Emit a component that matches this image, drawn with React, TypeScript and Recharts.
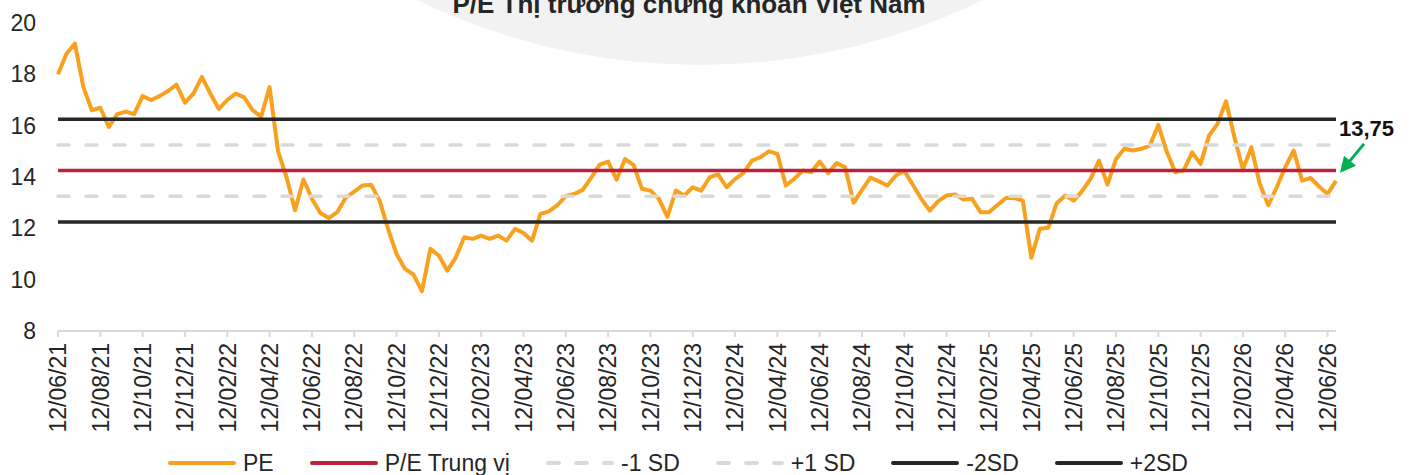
import React from 'react';
import { LineChart, Line, XAxis, YAxis, ReferenceDot, Legend } from 'recharts';

// tick labels, one every 5 points (2 months)
const X_LABELS = [
  '12/06/21', '12/08/21', '12/10/21', '12/12/21', '12/02/22', '12/04/22', '12/06/22', '12/08/22',
  '12/10/22', '12/12/22', '12/02/23', '12/04/23', '12/06/23', '12/08/23', '12/10/23', '12/12/23',
  '12/02/24', '12/04/24', '12/06/24', '12/08/24', '12/10/24', '12/12/24', '12/02/25', '12/04/25',
  '12/06/25', '12/08/25', '12/10/25', '12/12/25', '12/02/26', '12/04/26', '12/06/26',
];
const POINTS_PER_LABEL = 5;

// P/E
const PE_VALUES = [
  18.0, 18.8, 19.2, 17.5, 16.6, 16.7, 15.95, 16.45, 16.55, 16.45,
  17.15, 17.0, 17.15, 17.35, 17.6, 16.9, 17.25, 17.9, 17.25, 16.65,
  17.0, 17.25, 17.1, 16.6, 16.35, 17.5, 15.0, 14.0, 12.7, 13.9,
  13.15, 12.6, 12.4, 12.63, 13.2, 13.43, 13.67, 13.7, 13.08, 11.98,
  11.0, 10.42, 10.2, 9.55, 11.2, 10.94, 10.35, 10.87, 11.65, 11.59,
  11.72, 11.59, 11.72, 11.52, 11.98, 11.82, 11.52, 12.56, 12.66, 12.9,
  13.25, 13.34, 13.5, 13.98, 14.48, 14.6, 13.9, 14.7, 14.47, 13.54,
  13.47, 13.15, 12.45, 13.47, 13.28, 13.6, 13.47, 13.99, 14.1, 13.6,
  13.92, 14.16, 14.64, 14.77, 15.0, 14.9, 13.67, 13.93, 14.25, 14.19,
  14.6, 14.15, 14.54, 14.38, 13.0, 13.5, 13.98, 13.83, 13.67, 14.06,
  14.24, 13.7, 13.15, 12.69, 13.06, 13.28, 13.32, 13.12, 13.15, 12.63,
  12.63, 12.91, 13.18, 13.18, 13.08, 10.85, 11.98, 12.02, 12.98, 13.28,
  13.08, 13.45, 13.93, 14.64, 13.7, 14.7, 15.1, 15.03, 15.1, 15.22,
  16.03, 14.99, 14.19, 14.25, 14.96, 14.51, 15.61, 16.07, 16.95, 15.55,
  14.3, 15.16, 13.73, 12.9, 13.6, 14.38, 15.03, 13.86, 13.96, 13.63,
  13.34, 13.85,
];

const MEDIAN = 14.25;
const MINUS_1SD = 13.25;
const PLUS_1SD = 15.25;
const MINUS_2SD = 12.25;
const PLUS_2SD = 16.25;
const LAST_LABEL = '13,75';

const Y_TICKS = [8, 10, 12, 14, 16, 18, 20];

const data = PE_VALUES.map((pe, i) => ({
  i,
  pe,
  median: MEDIAN,
  m1: MINUS_1SD,
  p1: PLUS_1SD,
  m2: MINUS_2SD,
  p2: PLUS_2SD,
}));

const FONT = '"Liberation Sans", Arial, sans-serif';
const TEXT = '#262626';
const ORANGE = '#F7A11F';
const RED = '#C0203C';
const GRAY = '#D9D9D9';
const BLACK = '#262626';
const DASH = '11 17';

const SERIES = [
  { key: 'pe', name: 'PE', color: ORANGE, dash: undefined, width: 4 },
  { key: 'median', name: 'P/E Trung vị', color: RED, dash: undefined, width: 3.5 },
  { key: 'm1', name: '-1 SD', color: GRAY, dash: DASH, width: 3.5 },
  { key: 'p1', name: '+1 SD', color: GRAY, dash: DASH, width: 3.5 },
  { key: 'm2', name: '-2SD', color: BLACK, dash: undefined, width: 3.5 },
  { key: 'p2', name: '+2SD', color: BLACK, dash: undefined, width: 3.5 },
];

const XTick = (props: any) => {
  const { x, y, payload } = props;
  const label = X_LABELS[Math.round(payload.value / POINTS_PER_LABEL)];
  return (
    <text
      x={x}
      y={y}
      transform={`rotate(-90, ${x}, ${y})`}
      textAnchor="end"
      dy="0.36em"
      fontSize={23}
      fontFamily={FONT}
      fill={TEXT}
    >
      {label}
    </text>
  );
};

// arrow + value label at the last point
const EndMarker = (props: any) => {
  const { cx, cy } = props;
  return (
    <g>
      <line x1={cx + 28} y1={cy - 37} x2={cx + 13} y2={cy - 19} stroke="#00B050" strokeWidth={3} />
      <polygon
        points={`${cx + 4},${cy - 8} ${cx + 8},${cy - 25} ${cx + 20},${cy - 15}`}
        fill="#00B050"
      />
      <text x={cx + 3} y={cy - 45} fontSize={22} fontWeight="bold" fontFamily={FONT} fill="#111">
        {LAST_LABEL}
      </text>
    </g>
  );
};

const renderLegend = () => (
  <div
    style={{
      display: 'flex',
      alignItems: 'center',
      paddingLeft: 168,
      fontFamily: FONT,
      fontSize: 23,
      color: TEXT,
      height: 24,
      whiteSpace: 'nowrap',
    }}
  >
    {SERIES.map((s) => (
      <div key={s.key} style={{ display: 'flex', alignItems: 'center', marginRight: 36 }}>
        <svg width={68} height={10} style={{ marginRight: 7 }}>
          <line
            x1={2}
            y1={5}
            x2={66}
            y2={5}
            stroke={s.color}
            strokeWidth={4}
            strokeDasharray={s.dash}
            strokeLinecap="round"
          />
        </svg>
        <span>{s.name}</span>
      </div>
    ))}
  </div>
);

export default function App() {
  const last = PE_VALUES.length - 1;
  return (
    <div
      style={{
        position: 'absolute',
        left: 0,
        top: 0,
        width: 1411,
        height: 475,
        overflow: 'hidden',
        background: '#fff',
      }}
    >
      <svg width={1411} height={475} style={{ position: 'absolute', left: 0, top: 0 }}>
        <circle cx={700} cy={-585} r={650} fill="#F2F2F2" />
        <text
          x={689}
          y={13}
          textAnchor="middle"
          fontSize={26}
          fontWeight="bold"
          fontFamily={FONT}
          fill={TEXT}
        >
          P/E Thị trường chứng khoán Việt Nam
        </text>
      </svg>
      <div style={{ position: 'absolute', left: 0, top: 0 }}>
        <LineChart
          width={1411}
          height={475}
          data={data}
          margin={{ top: 23, right: 75, left: 0, bottom: 0 }}
        >
          <XAxis
            type="number"
            dataKey="i"
            domain={[0, last]}
            ticks={X_LABELS.map((_, k) => k * POINTS_PER_LABEL)}
            interval={0}
            tick={<XTick />}
            height={120}
            tickMargin={6}
            axisLine={{ stroke: GRAY, strokeWidth: 2 }}
            tickLine={{ stroke: GRAY, strokeWidth: 2 }}
          />
          <YAxis
            domain={[8, 20]}
            ticks={Y_TICKS}
            width={58}
            tickMargin={16}
            axisLine={false}
            tickLine={false}
            tick={{ fontSize: 23, fontFamily: FONT, fill: TEXT }}
          />
          {SERIES.map((s) => (
            <Line
              key={s.key}
              type="linear"
              dataKey={s.key}
              name={s.name}
              stroke={s.color}
              strokeWidth={s.width}
              strokeDasharray={s.dash}
              strokeLinecap={s.dash ? 'round' : 'butt'}
              strokeLinejoin="round"
              dot={false}
              activeDot={false}
              isAnimationActive={false}
            />
          ))}
          <ReferenceDot x={last} y={PE_VALUES[last]} r={0} shape={<EndMarker />} />
          <Legend verticalAlign="bottom" height={24} content={renderLegend} />
        </LineChart>
      </div>
    </div>
  );
}
